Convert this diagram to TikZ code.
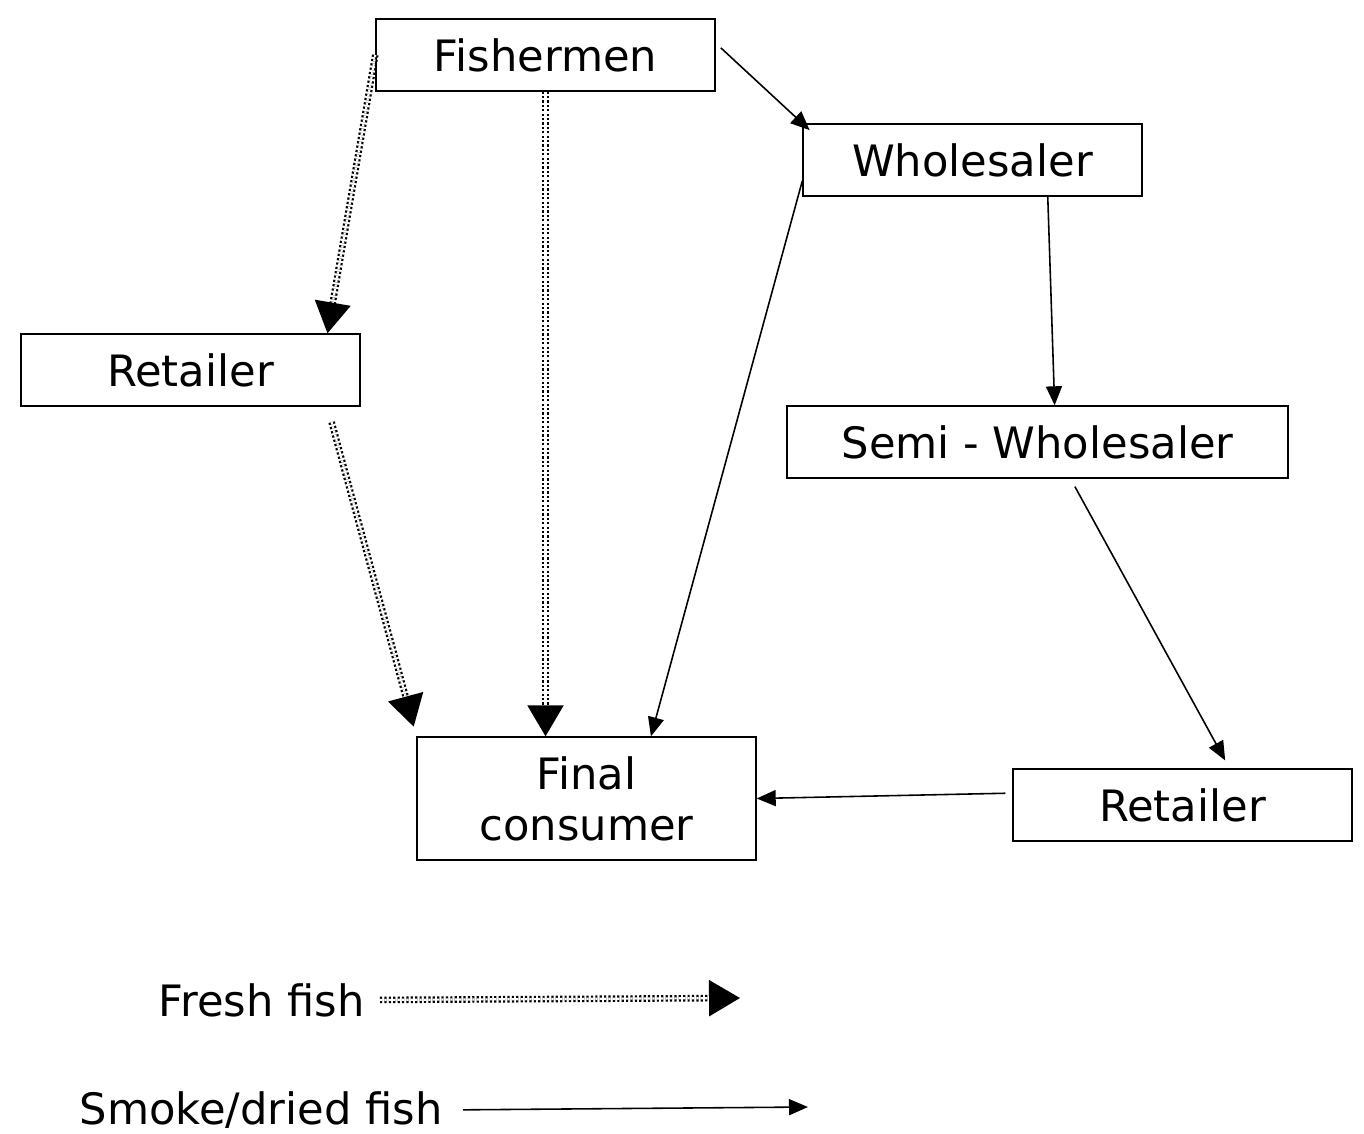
\documentclass[tikz,border=0pt]{standalone}
\usepackage{fontspec}
\setmainfont{DejaVu Sans}
\usetikzlibrary{arrows.meta}

\tikzset{
  box/.style={draw,line width=0.8pt,minimum width=6.78cm,minimum height=1.44cm,
    align=center,font=\fontsize{24.6}{29}\selectfont},
  lbl/.style={font=\fontsize{24.6}{29}\selectfont,inner sep=0pt},
  fresh/.style={double,line width=1.25pt,double distance=1.25pt,
    dash pattern=on 1.25pt off 1.25pt,-{Triangle[length=0.62cm,width=0.72cm]}},
  smoke/.style={line width=0.9pt,-{Triangle[length=0.38cm,width=0.32cm]}}
}

\begin{document}
\begin{tikzpicture}

\useasboundingbox (0,0) rectangle (27.28,-22.66);

\node[box] (fish) at (10.91,-1.10) {Fishermen};
\node[box] (whole) at (19.45,-3.20) {Wholesaler};
\node[box] (retl) at (3.81,-7.40) {Retailer};
\node[box,minimum width=10.02cm] (semi) at (20.75,-8.84) {Semi - Wholesaler};
\node[box,minimum height=2.46cm] (fin) at (11.73,-15.97) {Final\\consumer};
\node[box] (retr) at (23.65,-16.10) {Retailer};

\draw[fresh] (fish.west) -- (retl.15);
\draw[fresh] (fish.south) -- (fish.south |- fin.north);
\draw[fresh,shorten <=0.32cm,shorten >=0.2cm] (retl.-15) -- (fin.north west);

\draw[smoke,shorten <=0.14cm,shorten >=-0.2cm] (fish.4) -- (whole.north west);
\draw[smoke] (whole.187) -- (fin.44);
\draw[smoke] (whole.-26) -- (semi.65);
\draw[smoke,shorten <=0.18cm,shorten >=0.18cm] (semi.-48) -- (retr.38);
\draw[smoke,shorten <=0.14cm] (retr.176) -- (fin.east);

\node[lbl,anchor=east] (lfresh) at (7.30,-20.0) {Fresh fish};
\coordinate (lfreshend) at (14.8,-19.96);
\draw[fresh,shorten <=0.3cm] (lfresh.east) -- (lfreshend);

\node[lbl,anchor=east] (lsmoke) at (8.86,-22.2) {Smoke/dried fish};
\coordinate (lsmokeend) at (16.16,-22.14);
\draw[smoke,shorten <=0.4cm] (lsmoke.east) -- (lsmokeend);

\end{tikzpicture}
\end{document}
